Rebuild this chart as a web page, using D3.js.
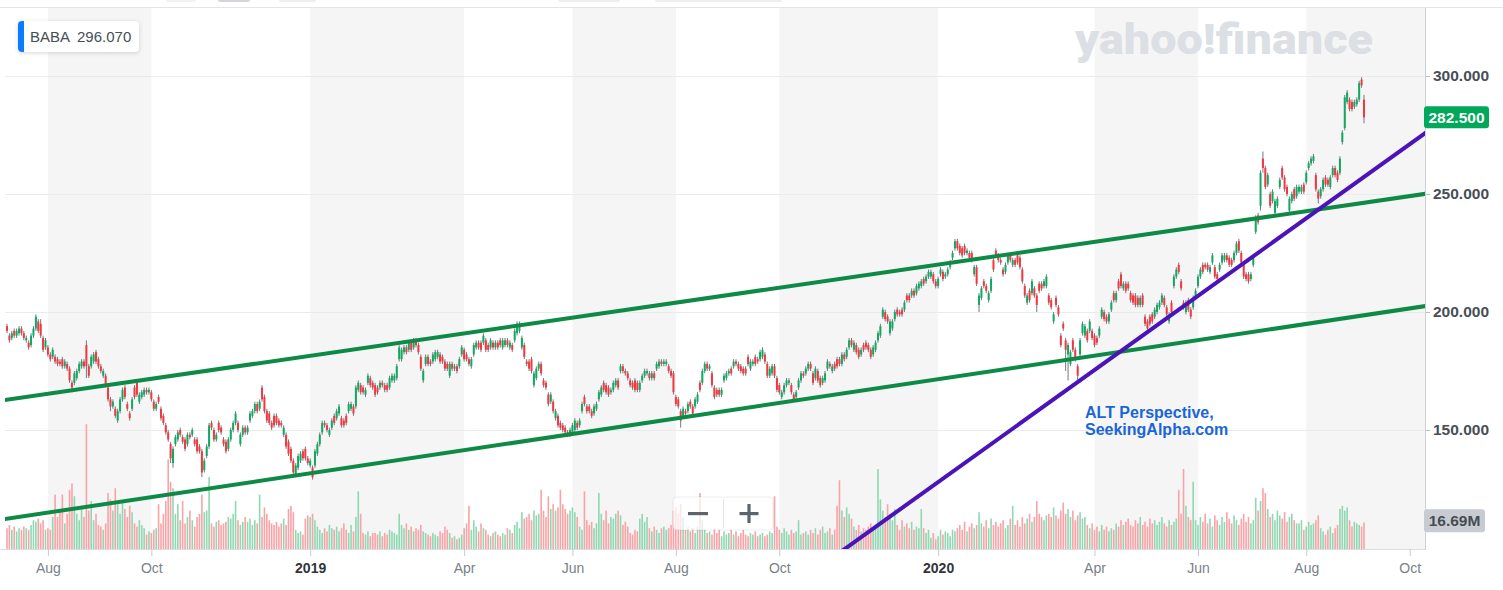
<!DOCTYPE html>
<html><head><meta charset="utf-8">
<script src="https://cdn.jsdelivr.net/npm/d3@7"></script>
<style>
html,body{margin:0;padding:0;background:#fff;}
svg{display:block;font-family:"Liberation Sans",Arial,Helvetica,sans-serif;}
</style></head><body>
<svg id="chart" width="1503" height="590"></svg>
<script>
// ---- BABA daily candles, 2018-07-09 .. 2020-09-04 (weekday sessions) ----
const open = [
194,190,189,192,190,191,193,191,188,187,186,190,193,196,195,189,185,185,182,181,
181,180,179,180,177,178,176,170,170,172,175,177,179,186,177,177,179,183,180,177,
173,173,168,163,160,159,154,158,163,168,161,157,159,168,170,162,164,165,167,166,
166,162,159,164,159,156,152,149,144,136,144,146,150,147,146,144,148,
148,146,146,143,141,133,139,143,153,150,146,153,151,146,145,142,146,150,153,153,
144,148,151,149,154,156,158,161,159,168,164,158,157,153,156,156,154,153,148,148,
145,142,137,131,134,137,141,142,138,135,134,135,140,144,149,153,152,148,151,156,
155,157,155,154,156,158,159,160,160,167,169,168,165,170,172,170,
169,168,168,170,169,169,168,171,171,172,180,180,183,185,184,187,185,188,186,181,
171,178,181,179,179,180,181,182,181,179,178,173,178,176,177,177,182,184,182,180,
177,182,185,187,187,187,188,186,185,187,185,187,188,185,186,188,185,186,188,191,
192,185,186,179,179,180,169,172,176,178,171,170,165,162,162,155,156,
153,152,151,149,148,149,150,153,152,158,164,160,160,158,157,159,163,165,170,169,
168,166,167,169,171,175,177,175,174,171,170,171,170,167,171,173,174,174,172,174,
176,177,179,178,178,177,175,174,164,163,158,156,158,158,162,160,160,162,170,170,
175,178,176,174,168,167,167,165,171,172,174,176,177,179,178,177,176,
176,181,176,178,181,180,180,181,182,178,173,174,177,172,169,164,166,169,170,169,
165,164,168,171,174,174,176,178,174,172,175,172,170,171,176,178,175,178,180,180,
178,182,181,185,188,184,186,184,182,186,187,186,184,182,184,188,190,198,200,198,
191,193,197,201,200,201,201,207,207,207,209,208,210,211,214,213,215,
215,216,213,211,216,217,215,216,219,223,227,230,228,227,228,225,225,225,216,219,
203,206,213,211,205,209,222,226,224,222,218,217,221,224,220,222,224,223,218,211,
204,209,208,210,207,212,212,211,211,207,205,196,206,202,190,195,188,182,178,188,
184,177,182,191,190,192,192,192,190,189,190,198,200,198,196,201,208,
205,213,216,210,212,212,208,207,207,206,203,207,198,196,198,199,198,200,202,204,
206,202,196,204,211,215,220,213,204,200,205,201,202,206,211,215,220,220,220,217,
221,219,216,218,221,222,224,223,222,222,225,230,225,220,216,216,214,220,234,241,
245,265,261,254,250,247,242,245,253,261,257,253,243,247,252,249,
251,251,254,255,261,263,264,258,251,249,252,257,256,253,258,261,259,259,272,278,
289,290,289,287,288,290,298.5,290
];
const close = [
192,188,191,190,192,193,191,189,189,185,190,193,198,192,190,184,188,182,180,184,
179,178,178,177,179,176,171,168,174,175,178,179,177,177,173,181,182,179,177,175,
175,169,163,160,162,156,158,163,167,164,159,155,163,164,165,165,166,167,166,167,
163,159,161,162,155,153,149,146,138,142,147,149,148,145,142,148,147,
150,144,141,141,132,137,143,152,151,146,148,150,149,144,141,146,150,153,157,150,
148,151,149,151,157,158,161,158,162,163,158,154,153,151,152,153,152,152,151,143,
140,137,132,135,139,140,138,138,136,137,130,141,144,148,153,152,150,150,154,153,
158,160,152,152,153,161,161,157,168,170,166,166,167,173,169,168,
165,166,170,169,167,167,172,173,173,177,185,184,185,183,187,184,188,186,183,176,
175,181,178,178,182,183,183,179,179,176,176,178,176,177,175,180,185,180,180,178,
180,186,187,185,184,190,184,184,188,185,187,185,186,188,188,186,187,184,192,195,
194,189,181,178,176,175,174,176,178,174,169,168,161,165,158,158,152,
151,150,149,148,150,152,154,151,154,161,161,158,158,156,160,161,166,168,167,166,
165,167,170,171,168,177,175,174,172,169,168,167,167,170,173,175,175,172,174,172,
178,179,178,179,179,175,173,166,161,160,154,159,157,161,160,157,163,165,167,175,
178,176,177,169,164,165,165,167,173,174,175,174,179,178,176,175,174,
174,178,179,179,178,179,183,184,179,173,176,177,173,167,166,166,169,171,171,166,
163,166,171,174,173,176,178,176,170,176,171,169,172,174,179,177,177,176,177,178,
182,180,184,188,186,187,183,181,184,184,185,184,181,185,187,191,194,201,197,196,
196,196,200,199,199,199,204,205,205,209,207,211,212,213,212,215,217,
217,213,211,214,218,214,216,218,221,225,230,227,225,224,225,226,223,222,219,212,
207,210,211,209,208,214,218,224,222,221,216,220,224,222,222,220,221,219,213,207,
207,205,213,207,203,209,210,213,215,204,202,199,203,199,186,193,184,186,183,184,
180,173,188,195,194,188,196,189,186,187,193,201,197,196,199,204,205,
208,210,211,212,209,210,205,204,203,203,206,203,195,193,195,196,201,203,204,207,
203,199,199,200,215,218,217,210,202,204,201,198,206,209,215,218,217,219,218,219,
224,215,214,220,224,224,222,220,220,225,229,226,221,215,214,213,216,223,240,238,
259,261,253,258,245,251,247,248,256,257,252,250,248,250,248,253,
253,253,251,259,263,265,266,252,248,252,256,254,254,257,261,258,256,265,276,291,
293,286,286,289,290,297,296.07,282.5
];
const high = [
195,191,192,193,193,194,194,192,190,188,191,194,199,197,197,190,189,186,183,185,
182,181,180,181,180,179,177,171,175,176,179,180,180,188,178,182,183,184,181,178,
176,174,169,164,163,160,159,164,168,169,162,158,164,169,171,166,167,168,168,168,
167,163,162,165,160,157,153,150,145,143,148,150,151,148,147,149,149,
151,147,147,144,142,138,144,153,154,151,149,154,152,147,146,147,151,154,158,154,
149,152,152,152,158,159,162,162,163,169,165,159,158,154,157,157,155,154,152,149,
146,143,138,136,140,141,142,143,139,138,135,142,145,149,154,154,153,151,155,157,
159,161,156,155,157,162,162,161,169,171,170,169,168,174,173,171,
170,169,171,171,170,170,173,174,174,178,186,185,186,186,188,188,189,189,187,182,
176,182,182,180,183,184,184,183,182,180,179,179,179,178,178,181,186,185,183,181,
181,187,188,188,188,191,189,187,189,188,188,188,189,189,189,189,188,187,193,196,
196,190,187,180,180,181,175,177,179,179,172,171,166,166,163,159,157,
154,153,152,150,151,153,155,154,155,162,165,161,161,159,161,162,167,169,171,170,
169,168,171,172,172,178,178,176,175,172,171,172,171,171,174,176,176,175,175,175,
179,180,180,180,180,178,176,175,165,164,159,160,159,162,163,161,164,166,171,176,
179,179,178,175,169,168,168,168,174,175,176,177,180,180,179,178,177,
177,182,180,180,182,181,184,185,183,179,177,178,178,173,170,167,170,172,172,170,
166,167,172,175,175,177,179,179,175,177,176,173,173,175,180,179,178,179,181,181,
183,183,185,189,189,188,187,185,185,187,188,187,185,186,188,192,195,202,201,199,
197,197,201,202,201,202,205,208,208,210,210,212,213,214,215,216,218,
218,217,214,215,219,218,217,219,222,226,231,231,229,228,229,227,226,226,220,220,
208,211,214,212,209,215,223,227,225,223,219,221,225,225,223,223,225,224,219,212,
208,210,214,211,208,213,213,214,216,208,206,200,207,203,191,196,189,187,184,189,
185,178,189,196,195,193,197,193,191,190,194,202,201,199,200,205,209,
209,214,217,213,213,213,209,208,208,207,207,208,199,197,199,200,202,204,205,208,
207,203,200,205,216,219,221,214,205,205,206,202,207,210,216,219,221,221,221,220,
225,220,217,221,225,225,225,224,223,226,230,231,226,221,217,217,217,224,241,242,
260,268,262,259,251,252,248,249,257,262,258,254,249,251,253,254,
254,254,255,260,264,266,267,259,252,253,257,258,257,258,262,262,260,266,277,292,
294,291,290,290,291,298,299.5,292
];
const low = [
191,187,188,189,189,190,190,188,187,184,185,189,192,191,189,183,184,181,179,180,
178,177,177,176,176,175,170,166,169,171,174,176,176,172,172,176,178,178,176,174,
172,168,162,158,159,155,153,157,162,163,158,154,158,163,164,161,163,164,165,165,
162,158,158,161,154,152,148,145,136,134,143,145,147,144,141,143,146,
147,143,140,140,130,132,138,142,150,145,145,149,148,143,140,141,145,149,152,149,
143,147,148,148,153,155,157,157,158,162,157,153,152,150,151,152,151,151,147,142,
139,136,131,130,133,136,137,137,135,134,129,134,139,143,148,151,149,147,150,152,
154,156,151,151,152,157,158,156,159,166,165,165,164,169,168,167,
164,165,167,168,166,166,167,170,170,171,179,179,182,182,183,183,184,185,182,175,
170,177,177,177,178,179,180,178,178,175,175,172,175,175,174,176,181,179,179,177,
176,181,184,184,183,186,183,183,184,184,184,184,185,184,185,185,184,183,187,190,
191,184,180,177,175,174,168,171,175,173,168,167,160,161,157,154,151,
150,149,148,147,147,148,149,150,151,157,160,157,157,155,156,158,162,164,166,165,
164,165,166,168,167,174,174,173,171,168,167,166,166,166,170,172,173,171,171,171,
175,176,177,177,177,174,172,165,160,159,151,155,156,157,159,156,159,161,166,169,
174,175,175,168,163,164,164,164,170,171,173,173,176,177,175,174,173,
173,177,175,177,177,178,179,180,178,172,172,173,172,166,165,163,165,168,169,165,
162,163,167,170,172,173,175,175,169,171,170,168,169,170,175,176,174,175,176,177,
177,179,180,184,185,183,182,180,181,183,184,183,180,181,183,187,189,197,196,195,
190,192,196,198,198,198,200,204,204,206,206,207,209,210,211,212,214,
214,212,210,210,215,213,214,215,218,222,226,226,224,223,224,224,222,221,215,211,
200,205,210,208,204,208,217,223,221,220,215,216,220,221,219,219,220,218,212,206,
203,204,207,206,200,208,209,210,210,203,201,195,202,198,185,192,175,171,177,183,
179,170,181,190,189,187,191,188,185,186,189,197,196,195,195,200,204,
204,209,210,209,208,209,204,203,202,202,202,202,194,192,194,195,197,199,201,203,
202,198,195,199,210,214,216,209,201,199,200,197,201,205,210,214,216,218,217,216,
220,214,213,217,220,221,221,219,219,221,224,225,220,214,213,212,213,219,233,237,
243,259,252,253,244,246,241,244,252,256,251,249,242,246,247,248,
250,250,250,254,260,262,263,251,246,248,251,253,253,252,257,257,255,258,271,277,
288,285,285,286,287,289,295,280
];
// volume in millions of shares
const volume = [
13,15,12,14,11,13,12,14,13,12,15,18,17,19,16,18,12,13,12,20,
34,20,25,34,16,22,37,41,33,22,18,25,20,78,24,30,18,22,15,14,
12,16,35,31,24,38,28,22,30,25,20,27,23,16,14,18,15,13,9,11,
10,12,13,28,16,22,30,56,42,38,22,28,18,30,16,20,24,
18,14,20,22,34,23,24,45,16,14,17,18,15,16,17,20,19,22,30,18,
15,17,20,17,19,15,18,16,34,20,26,22,18,16,15,17,14,16,19,15,
25,27,23,12,10,11,9,19,21,20,22,18,14,12,10,13,11,15,13,12,
14,11,13,16,12,10,15,11,20,36,22,10,9,11,8,10,
10,9,11,8,10,9,12,11,10,9,22,15,13,16,12,14,11,13,12,15,
11,10,9,8,10,9,8,11,10,14,12,10,7,8,6,7,9,13,16,27,
12,18,14,11,16,13,12,9,8,10,11,9,8,10,9,13,12,10,15,17,
13,23,19,20,22,18,24,21,22,37,24,20,33,25,28,24,26,
37,28,25,22,24,26,23,20,14,12,36,18,15,17,13,16,35,22,18,24,
16,20,19,22,24,21,15,17,14,10,9,12,11,19,22,17,20,13,11,14,
12,10,13,14,12,13,15,24,26,22,28,20,12,14,11,13,10,14,35,18,
12,10,11,9,13,10,12,8,11,9,10,12,9,11,8,10,12,
9,8,10,9,11,8,9,10,8,9,11,10,33,14,12,10,13,11,9,12,
10,11,18,9,10,11,9,12,10,13,9,12,14,10,11,13,9,12,27,43,
24,20,26,22,19,14,12,15,11,13,12,14,16,13,15,50,31,24,20,28,
22,18,25,15,12,18,14,16,13,17,12,14,13,25,13,10,12,
7,10,6,8,12,9,11,10,8,12,11,13,15,12,17,11,14,16,13,15,
23,16,14,18,13,19,15,17,14,16,18,13,15,19,27,15,18,14,20,16,
19,22,17,20,30,22,20,18,21,22,20,26,21,19,24,29,22,25,20,24,
18,21,23,19,20,15,13,16,12,14,11,15,12,14,11,13,12,
16,14,18,15,17,19,15,14,18,16,20,15,17,14,19,16,18,15,17,20,
16,14,18,15,17,19,37,22,50,27,20,18,42,18,15,20,17,22,16,19,
14,21,18,15,20,17,23,19,16,21,18,15,19,22,17,20,16,18,32,24,
30,38,35,25,20,22,18,24,21,19,23,17,20,22,18,16,
16,18,12,14,17,15,16,18,21,13,11,9,12,14,10,13,15,25,27,24,
26,18,14,17,16,15,14,16.69
];
const tickMonths = ["2018-08","2018-10","2019-01","2019-04","2019-06","2019-08","2019-10","2020-01","2020-04","2020-06","2020-08","2020-10"];
const tickLabels = ["Aug","Oct","2019","Apr","Jun","Aug","Oct","2020","Apr","Jun","Aug","Oct"];
const yearTicks = ["2019","2020"];
const priceTicks = [150, 200, 250, 300];
// drawn trend lines: two anchor points [session index, price]
const channelUpper = [[0, 162.8], [560, 245.7]];
const channelLower = [[0, 112.4], [560, 198.0]];
const supportLine = [[445, 170.3], [560, 254.3]];
const symbol = "BABA";
const headerPrice = 296.07;
const lastPrice = 282.5;
const lastVolume = 16.69;
const noteLines = ["ALT Perspective,", "SeekingAlpha.com"];

// ---- layout ----
const plotL = 5, plotR = 1425, plotT = 8, plotB = 549;
const svg = d3.select("#chart");

// weekday session calendar
const days = [];
for (let d = new Date(2018, 6, 9); d <= new Date(2020, 9, 2); d.setDate(d.getDate() + 1)) {
  const wd = d.getDay();
  if (wd !== 0 && wd !== 6) days.push(new Date(d));
}
const tickIdx = tickMonths.map(m => {
  const [Y, M] = m.split("-").map(Number);
  return days.findIndex(d => d.getFullYear() === Y && d.getMonth() === M - 1);
});

const x = d3.scaleLinear().domain([0, 583]).range([7, 1409.7]);
const y = d3.scaleLinear().domain([150, 300]).range([430, 76]);
const yv = d3.scaleLinear().domain([0, 100]).range([plotB, plotB - 160]);

const defs = svg.append("defs");
defs.append("clipPath").attr("id", "plotClip").append("rect")
  .attr("x", plotL).attr("y", plotT).attr("width", plotR - plotL).attr("height", plotB - plotT);
const f = defs.append("filter").attr("id", "shadow").attr("x", "-20%").attr("y", "-30%").attr("width", "140%").attr("height", "170%");
f.append("feDropShadow").attr("dx", 0).attr("dy", 1).attr("stdDeviation", 2).attr("flood-color", "#000").attr("flood-opacity", 0.16);

// toolbar remnants at top
const tb = [[166, 196, "#f1f2f3"], [218, 250, "#d4d7da"], [279, 316, "#eceef0"], [558, 620, "#eceef0"], [655, 782, "#eceef0"]];
svg.selectAll("rect.tb").data(tb).join("rect").attr("class", "tb")
  .attr("x", d => d[0]).attr("y", -3).attr("width", d => d[1] - d[0]).attr("height", 5).attr("rx", 2)
  .attr("fill", d => d[2]);

// alternating month bands
const bands = [];
for (let k = 0; k < tickIdx.length; k += 2) {
  const x0 = x(tickIdx[k]);
  const x1 = (k + 2 >= tickIdx.length) ? plotR : x(tickIdx[k + 1]);
  bands.push([x0, x1]);
}
svg.append("g").selectAll("rect").data(bands).join("rect")
  .attr("x", d => d[0]).attr("y", plotT).attr("width", d => d[1] - d[0]).attr("height", plotB - plotT)
  .attr("fill", "#f5f5f5");

// top rule
svg.append("line").attr("x1", 0).attr("x2", 1503).attr("y1", 7.5).attr("y2", 7.5)
  .attr("stroke", "#e2e4e7").attr("stroke-width", 1);

// gridlines
svg.append("g").selectAll("line").data(priceTicks).join("line")
  .attr("x1", plotL).attr("x2", plotR).attr("y1", d => Math.round(y(d)) + 0.5).attr("y2", d => Math.round(y(d)) + 0.5)
  .attr("stroke", "#ebebeb").attr("stroke-width", 1);

// watermark
svg.append("text").attr("x", 1075).attr("y", 54)
  .attr("font-family", "Roboto, 'Liberation Sans', Arial, sans-serif")
  .attr("font-size", 43).attr("font-weight", 900).attr("fill", "#dcdfe3")
  .attr("textLength", 298).attr("lengthAdjust", "spacingAndGlyphs")
  .text("yahoo!finance");

const plot = svg.append("g").attr("clip-path", "url(#plotClip)");
const idx = d3.range(close.length);
const up = i => close[i] >= open[i];

// volume
plot.append("g").selectAll("rect").data(idx).join("rect")
  .attr("x", i => x(i) - 0.8).attr("width", 1.6)
  .attr("y", i => yv(volume[i])).attr("height", i => plotB - yv(volume[i]))
  .attr("fill", i => up(i) ? "#8fd8b2" : "#f9a3a6");

// candles
const cg = plot.append("g");
cg.selectAll("line").data(idx).join("line")
  .attr("x1", i => x(i)).attr("x2", i => x(i))
  .attr("y1", i => y(high[i])).attr("y2", i => y(low[i]))
  .attr("stroke", "#707982").attr("stroke-width", 1);
cg.selectAll("rect").data(idx).join("rect")
  .attr("x", i => x(i) - 1).attr("width", 2)
  .attr("y", i => y(Math.max(open[i], close[i])))
  .attr("height", i => Math.max(1, Math.abs(y(open[i]) - y(close[i]))))
  .attr("fill", i => up(i) ? "#10a960" : "#f2383e");

// trend lines (extended across the visible domain)
function extLine(pts) {
  const [[i0, p0], [i1, p1]] = pts;
  const s = (p1 - p0) / (i1 - i0);
  const a = x.invert(plotL - 2), b = x.invert(plotR + 2);
  return [[a, p0 + (a - i0) * s], [b, p0 + (b - i0) * s]];
}
const lineGen = d3.line().x(d => x(d[0])).y(d => y(d[1]));
[[channelUpper, "#0e8a47"], [channelLower, "#0e8a47"], [supportLine, "#4a14b8"]].forEach(([pts, col]) => {
  plot.append("path").attr("d", lineGen(extLine(pts))).attr("fill", "none")
    .attr("stroke", col).attr("stroke-width", 4).attr("stroke-linecap", "butt");
});

// annotation
svg.append("g").selectAll("text").data(noteLines).join("text")
  .attr("x", 1085).attr("y", (d, i) => 418 + i * 17)
  .attr("font-size", 16).attr("font-weight", 700).attr("fill", "#1a66d6")
  .text(d => d);

// zoom control
const zc = svg.append("g");
zc.append("rect").attr("x", 673).attr("y", 497).attr("width", 100).attr("height", 33).attr("rx", 4)
  .attr("fill", "rgba(255,255,255,0.72)").attr("stroke", "rgba(0,0,0,0.07)");
zc.append("line").attr("x1", 723.5).attr("x2", 723.5).attr("y1", 499).attr("y2", 528).attr("stroke", "#e2e4e6");
zc.append("rect").attr("x", 688).attr("y", 512).attr("width", 20).attr("height", 3.2).attr("fill", "#5c646c");
zc.append("rect").attr("x", 739.5).attr("y", 512).attr("width", 19).attr("height", 3.2).attr("fill", "#5c646c");
zc.append("rect").attr("x", 747.4).attr("y", 504).attr("width", 3.2).attr("height", 19).attr("fill", "#5c646c");

// right axis
svg.append("line").attr("x1", plotR + 0.5).attr("x2", plotR + 0.5).attr("y1", plotT).attr("y2", plotB + 1)
  .attr("stroke", "#cdd1d5");
const ra = svg.append("g").attr("transform", `translate(${plotR + 1},0)`)
  .call(d3.axisRight(y).tickValues(priceTicks).tickFormat(d3.format(".3f")).tickSize(4).tickPadding(3));
ra.select(".domain").remove();
ra.selectAll(".tick line").attr("stroke", "#b9bec4");
ra.selectAll(".tick text").attr("font-family", "'Liberation Sans', Arial, sans-serif")
  .attr("font-size", 15.5).attr("font-weight", 700).attr("fill", "#464e56");

// bottom axis
svg.append("line").attr("x1", 0).attr("x2", plotR).attr("y1", plotB + 0.5).attr("y2", plotB + 0.5)
  .attr("stroke", "#dadde0");
const ba = svg.append("g").attr("transform", `translate(0,${plotB})`)
  .call(d3.axisBottom(x).tickValues(tickIdx).tickFormat((d, i) => tickLabels[i]).tickSize(7).tickPadding(7));
ba.select(".domain").remove();
ba.selectAll(".tick line").attr("stroke", "#c6cacf");
ba.selectAll(".tick text").attr("font-family", "'Liberation Sans', Arial, sans-serif")
  .attr("font-size", 14)
  .attr("font-weight", d => yearTicks.includes(tickLabels[tickIdx.indexOf(d)]) ? 700 : 400)
  .attr("fill", d => yearTicks.includes(tickLabels[tickIdx.indexOf(d)]) ? "#2f353b" : "#7a8189");

// last price marker
const lpY = y(lastPrice);
svg.append("rect").attr("x", 1424).attr("y", lpY - 11).attr("width", 65).attr("height", 22).attr("rx", 3).attr("fill", "#00a85a");
svg.append("text").attr("x", 1456.5).attr("y", lpY + 5.5).attr("text-anchor", "middle")
  .attr("font-size", 15.5).attr("font-weight", 700).attr("fill", "#fff").text(d3.format(".3f")(lastPrice));

// last volume marker
const lvY = yv(lastVolume) - 1.5;
svg.append("rect").attr("x", 1424).attr("y", lvY - 11.5).attr("width", 61).attr("height", 23).attr("rx", 3).attr("fill", "#c8ccd2");
svg.append("text").attr("x", 1454.5).attr("y", lvY + 5.5).attr("text-anchor", "middle")
  .attr("font-size", 15.5).attr("font-weight", 700).attr("fill", "#454c54").text(lastVolume.toFixed(2) + "M");

// header label
const hg = svg.append("g");
hg.append("rect").attr("x", 18).attr("y", 21).attr("width", 121).attr("height", 31).attr("rx", 4)
  .attr("fill", "#fff").attr("filter", "url(#shadow)");
hg.append("path").attr("d", "M22,21 h2 v31 h-2 a4,4 0 0 1 -4,-4 v-23 a4,4 0 0 1 4,-4 z").attr("fill", "#0b7cff");
hg.append("text").attr("x", 30).attr("y", 42).attr("font-size", 15).attr("fill", "#464e56").text(symbol);
hg.append("text").attr("x", 77).attr("y", 42).attr("font-size", 15).attr("fill", "#464e56").text(d3.format(".3f")(headerPrice));
</script>
</body></html>
